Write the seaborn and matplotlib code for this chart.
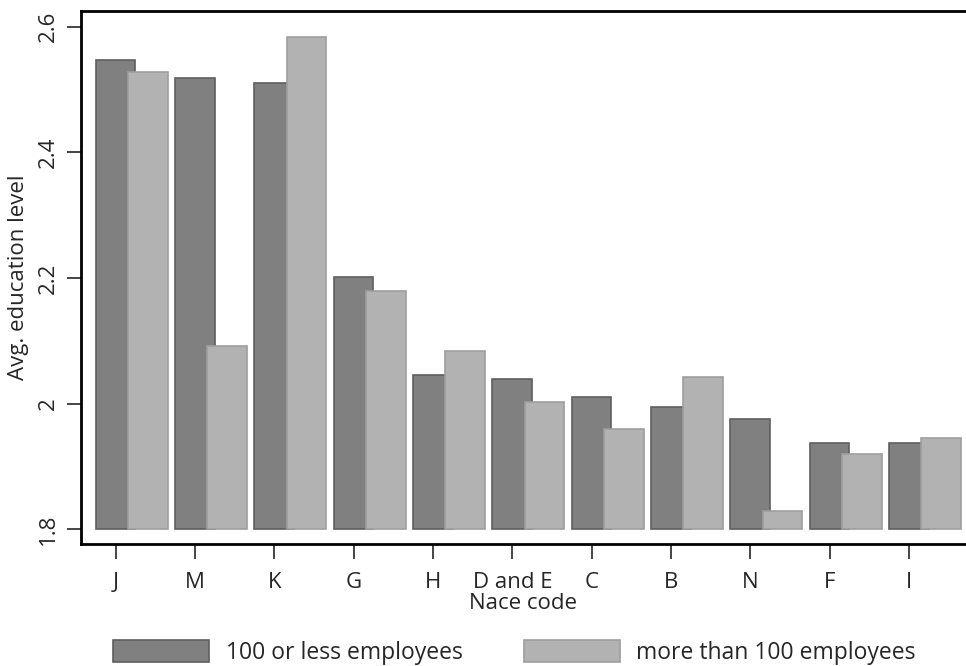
import numpy as np
import pandas as pd
import matplotlib.pyplot as plt
import seaborn as sns

# dados
nace = ['J', 'M', 'K', 'G', 'H', 'D and E', 'C', 'B', 'N', 'F', 'I']
small = [2.547, 2.519, 2.510, 2.201, 2.045, 2.040, 2.011, 1.995, 1.976, 1.938, 1.938]
large = [2.528, 2.092, 2.583, 2.180, 2.083, 2.003, 1.960, 2.042, 1.829, 1.920, 1.946]
base = 1.8

sns.set_style("ticks")
plt.rcParams['font.family'] = ['Open Sans', 'DejaVu Sans']
plt.rcParams['font.size'] = 16

pos = np.arange(len(nace))
df_small = pd.DataFrame({'x': pos, 'y': np.array(small) - base})
df_large = pd.DataFrame({'x': pos + 0.405, 'y': np.array(large) - base})

fig = plt.figure(figsize=(9.66, 6.66), dpi=100)
ax = fig.add_axes([0.0835, 0.1832, 0.9165, 0.8003])

sns.barplot(data=df_small, x='x', y='y', native_scale=True, width=0.5,
            color='#808080', saturation=1, edgecolor='#5f5f5f', linewidth=1.2,
            bottom=base, errorbar=None, label='100 or less employees', ax=ax)
sns.barplot(data=df_large, x='x', y='y', native_scale=True, width=0.5,
            color='#b2b2b2', saturation=1, edgecolor='#9e9e9e', linewidth=1.2,
            bottom=base, errorbar=None, label='more than 100 employees', ax=ax)

ax.set_xlim(-0.441, 10.72)
ax.set_ylim(1.7766, 2.625)
ax.set_xticks(pos, labels=nace)
ax.set_yticks([1.8, 2.0, 2.2, 2.4, 2.6], labels=['1.8', '2', '2.2', '2.4', '2.6'])
ax.tick_params(axis='y', labelrotation=90, length=10, width=1.2, pad=6)
ax.tick_params(axis='x', length=11, width=1.2, pad=9)
for lab in ax.get_yticklabels():
    lab.set_verticalalignment('center')

ax.set_xlabel('Nace code', labelpad=0)
ax.set_ylabel('Avg. education level', labelpad=6)

for s in ['left', 'bottom', 'top']:
    ax.spines[s].set_linewidth(2)
    ax.spines[s].set_color('black')
ax.spines['right'].set_visible(False)

ax.legend(loc='upper center', bbox_to_anchor=(0.49, -0.142), ncol=2, frameon=False,
          handlelength=4.2, handleheight=1.1, handletextpad=0.72,
          columnspacing=2.65, fontsize=16.5)

fig.savefig('out.png', dpi=100)
